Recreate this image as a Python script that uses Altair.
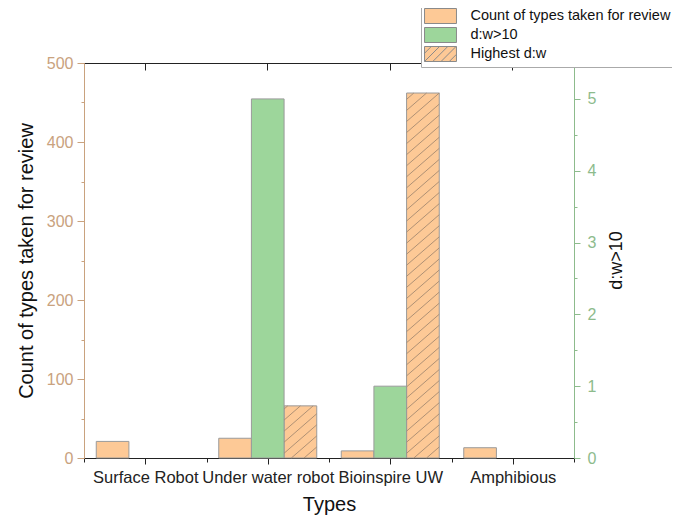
import json
import altair as alt
import pandas as pd

# ---------------- data ----------------
types = ["Surface Robot", "Under water robot", "Bioinspire UW", "Amphibious"]
series = ["Count of types taken for review", "d:w>10", "Highest d:w"]
count_vals = [21, 25, 9, 13]          # left axis
dw10_vals = [None, 5, 1, None]        # right axis
highest_vals = [None, 66, 462, None]  # left axis (hatched)

left_ticks = list(range(0, 501, 50))
right_ticks = [i * 0.5 for i in range(0, 12)]

# ---------------- styles ----------------
ORANGE = "#FDC996"
GREEN = "#9DD69B"
TAN = "#C9A27E"
GREENAX = "#8DBB8C"
STROKE = "#9a9a9a"
HATCH = "#a68a70"
FONT = "Liberation Sans"

rows = []
for i, t in enumerate(types):
    for s, vals in zip(series, [count_vals, dw10_vals, highest_vals]):
        if vals[i] is not None:
            rows.append({"Type": t, "Series": s, "Value": vals[i]})
df = pd.DataFrame(rows)

# hatch segments for the "Highest d:w" bars (in the same data units)
pad_inner = 0.2
sub = (1 - pad_inner) / len(series)
spacing = 14.0
rise = 36.0
hrows = []
for i, v in enumerate(highest_vals):
    if v is None:
        continue
    x0 = i + pad_inner / 2 + 2 * sub
    yl = -rise
    while yl < v:
        t0 = max(0.0, -yl / rise)
        t1 = min(1.0, (v - yl) / rise)
        if t1 > t0:
            hrows.append({"x0": x0 + t0 * sub, "x1": x0 + t1 * sub,
                          "y0": yl + t0 * rise, "y1": yl + t1 * rise})
        yl += spacing
hdf = pd.DataFrame(hrows)

rect = "M-2.13,-1H2.13V1H-2.13Z"
hatch_path = rect + " M-2.13,-0.1L-1.23,-1 M-2.13,1L-0.13,-1 M-1.03,1L0.97,-1 M0.07,1L2.07,-1 M1.17,1L2.13,0.04"

legend = alt.Legend(
    title=None, orient="none", legendX=337, legendY=-58,
    labelFont=FONT, labelFontSize=14.5, labelColor="#111",
    symbolSize=225, symbolOffset=8.5, labelOffset=22,
    symbolStrokeColor="#8a8a8a", symbolStrokeWidth=1,
    strokeColor="#aaaaaa", fillColor="white", padding=3, rowPadding=-1,
    labelLimit=400,
)
color = alt.Color("Series:N", scale=alt.Scale(domain=series, range=[ORANGE, GREEN, ORANGE]), legend=legend)

xband = alt.Scale(domain=types, paddingInner=pad_inner, paddingOuter=pad_inner / 2)
xoff = alt.XOffset("Series:N", scale=alt.Scale(domain=series))

left = alt.Chart(df).transform_filter(
    alt.datum.Series != "d:w>10"
).mark_bar(stroke=STROKE, strokeWidth=1).encode(
    x=alt.X("Type:N", scale=xband, axis=None),
    xOffset=xoff,
    y=alt.Y("Value:Q", scale=alt.Scale(domain=[0, 500], nice=False),
            axis=alt.Axis(orient="left", values=left_ticks,
                          labelExpr="datum.value % 100 === 0 ? datum.label : ''",
                          tickSize={"condition": {"test": "datum.value % 100 === 0", "value": 7}, "value": 3},
                          domainColor=TAN, tickColor=TAN, labelColor=TAN,
                          labelFont=FONT, labelFontSize=16, labelPadding=4,
                          title="Count of types taken for review", titleFont=FONT,
                          titleFontSize=20, titleFontWeight="normal", titleColor="#111",
                          titlePadding=10, grid=False)),
    color=color,
)

green = alt.Chart(df).transform_filter(
    alt.datum.Series == "d:w>10"
).mark_bar(stroke=STROKE, strokeWidth=1).encode(
    x=alt.X("Type:N", scale=xband,
            axis=alt.Axis(orient="top", labels=False, domain=False, ticks=True,
                          tickSize=7, offset=-7, tickColor="#222", title=None, grid=False)),
    xOffset=xoff,
    y=alt.Y("Value:Q", scale=alt.Scale(domain=[0, 5.5], nice=False),
            axis=alt.Axis(orient="right", values=right_ticks,
                          labelExpr="datum.value % 1 === 0 ? format(datum.value, 'd') : ''",
                          tickSize={"condition": {"test": "datum.value % 1 === 0", "value": 6}, "value": 3},
                          domainColor=GREENAX, tickColor=GREENAX, labelColor=GREENAX,
                          labelFont=FONT, labelFontSize=16, labelPadding=7,
                          title="d:w>10", titleAngle=270, titleFont=FONT,
                          titleFontSize=18, titleFontWeight="normal", titleColor="#111",
                          titleX=42, titleY=197, titleAlign="center", titleBaseline="middle",
                          grid=False)),
    color=color,
)

label_expr = "datum.value % 1 === 0.5 ? " + json.dumps(types) + "[floor(datum.value)] : ''"
hatch = alt.Chart(hdf).mark_rule(color=HATCH, strokeWidth=0.9).encode(
    x=alt.X("x0:Q", scale=alt.Scale(domain=[0, len(types)], nice=False, zero=False),
            axis=alt.Axis(orient="bottom", values=[i * 0.5 for i in range(0, 2 * len(types) + 1)],
                          labelExpr=label_expr, labelOverlap=False, labelFlush=False,
                          tickSize={"condition": {"test": "datum.value % 1 === 0.5", "value": 6}, "value": 4},
                          domainColor="#222", tickColor="#222", labelColor="#222",
                          labelFont=FONT, labelFontSize=16.5, labelPadding=5,
                          title="Types", titleFont=FONT, titleFontSize=20,
                          titleFontWeight="normal", titleColor="#111", titlePadding=9,
                          grid=False)),
    x2="x1:Q",
    y=alt.Y("y0:Q", scale=alt.Scale(domain=[0, 500], nice=False), axis=None),
    y2="y1:Q",
)

leg_layer = alt.Chart(df).transform_filter("false").mark_point(filled=True, opacity=1, size=225).encode(
    color=color,
    shape=alt.Shape("Series:N", scale=alt.Scale(domain=series, range=[rect, rect, hatch_path]), legend=legend),
)

chart = alt.layer(left, green, hatch, leg_layer).resolve_scale(
    x="independent", y="independent"
).properties(
    width=490, height=395,
    autosize=alt.AutoSizeParams(type="none"),
    padding={"left": 76, "top": 55, "right": 98, "bottom": 64},
    background="white",
).configure_view(stroke="#222", strokeWidth=1)

chart.save("out.html", embed_options={"renderer": "svg", "actions": False})
